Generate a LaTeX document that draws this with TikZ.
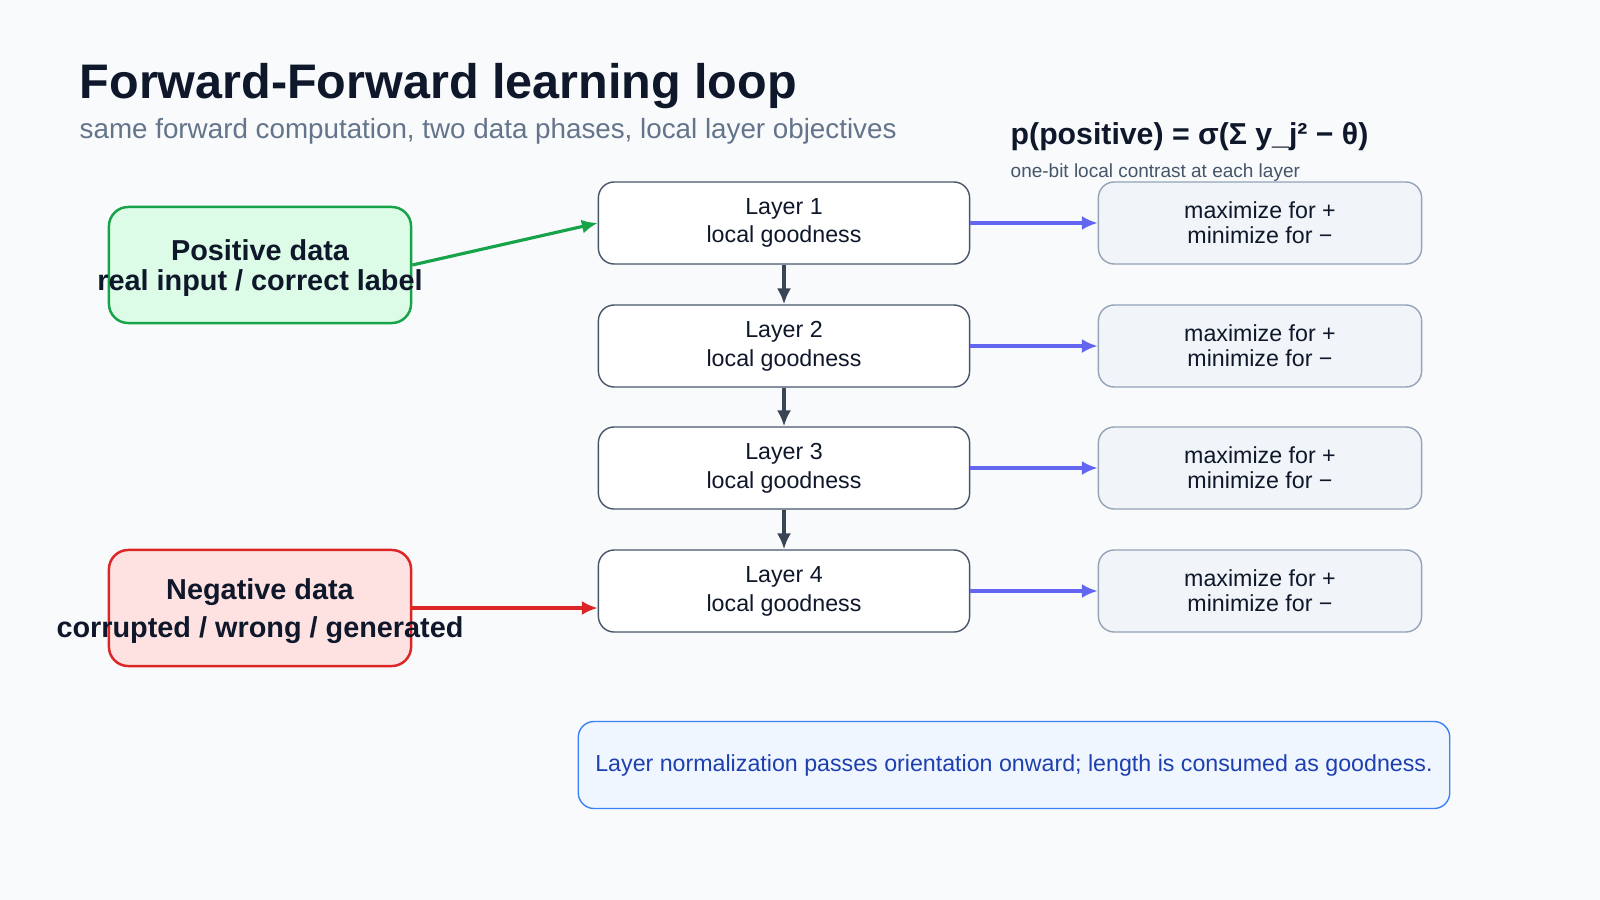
\documentclass[tikz,border=0pt]{standalone}
\usepackage{fontspec}
\setmainfont{Liberation Sans}
\usetikzlibrary{positioning, arrows.meta}
\definecolor{BgGray}{HTML}{F8FAFC}
\definecolor{InkDark}{HTML}{0F172A}
\definecolor{InkMid}{HTML}{64748B}
\definecolor{EdgeGray}{HTML}{475569}
\definecolor{PosFill}{HTML}{DCFCE7}
\definecolor{PosLine}{HTML}{16A34A}
\definecolor{NegFill}{HTML}{FEE2E2}
\definecolor{NegLine}{HTML}{DC2626}
\definecolor{ObjFill}{HTML}{F1F5F9}
\definecolor{ObjLine}{HTML}{94A3B8}
\definecolor{Indigo}{HTML}{6366F1}
\definecolor{NoteFill}{HTML}{EFF6FF}
\definecolor{NoteLine}{HTML}{3B82F6}
\definecolor{NoteInk}{HTML}{1E40AF}

\tikzset{
    layer/.style={draw=EdgeGray, fill=white, rounded corners=4.5pt, minimum width=3.71cm, minimum height=0.82cm, align=center, font=\fontsize{6.6}{8.2}\selectfont, text=InkDark},
    objective/.style={draw=ObjLine, fill=ObjFill, rounded corners=4.5pt, minimum width=3.23cm, minimum height=0.82cm, align=center, font=\fontsize{6.6}{7}\selectfont, text=InkDark},
    data/.style={draw, rounded corners=5.5pt, line width=0.7pt, minimum width=3.02cm, minimum height=1.16cm, text=InkDark},
    flow/.style={-{Latex[length=4.5pt,width=4pt]}, line width=0.9pt},
}

\begin{document}
\begin{tikzpicture}[x=0.01cm, y=-0.01cm]
    \fill[BgGray] (0,0) rectangle (1600,900);
    \useasboundingbox (0,0) rectangle (1600,900);

    \node[anchor=base west, font=\fontsize{13.8}{15}\selectfont\bfseries, text=InkDark, inner sep=0] (title) at (79,98) {Forward-Forward learning loop};
    \node[anchor=base west, font=\fontsize{7.9}{9}\selectfont, text=InkMid, inner sep=0] (subtitle) at (79,138) {same forward computation, two data phases, local layer objectives};
    \node[anchor=base west, font=\fontsize{8.6}{10}\selectfont\bfseries, text=InkDark, inner sep=0] (formula) at (1010,144) {p(positive) = σ(Σ y\_j² − θ)};
    \node[anchor=base west, font=\fontsize{5.4}{6}\selectfont, text=EdgeGray, inner sep=0] (formulanote) at (1010,177) {one-bit local contrast at each layer};

    \node[data, draw=PosLine, fill=PosFill] (pos) at (260,265) {};
    \node[font=\fontsize{8.2}{9}\selectfont\bfseries, text=InkDark, align=center] at (260,268) {Positive data\\[-0.5pt]real input / correct label};
    \node[data, draw=NegLine, fill=NegFill] (neg) at (260,608) {};
    \node[font=\fontsize{8.2}{10}\selectfont\bfseries, text=InkDark, align=center] at (260,611) {Negative data\\[1pt]corrupted / wrong / generated};

    \foreach \i/\y in {1/223, 2/346, 3/468, 4/591} {
        \node[layer] (layer\i) at (784,\y) {Layer \i\\local goodness};
        \node[objective] (obj\i) at (1260,\y) {maximize for +\\minimize for −};
        \draw[flow, Indigo] (layer\i) -- (obj\i);
    }
    \foreach \i/\j in {1/2, 2/3, 3/4}
        \draw[flow, EdgeGray!80!black] (layer\i) -- (layer\j);

    \draw[flow, PosLine] (pos.east) -- (layer1.west);
    \draw[flow, NegLine] (neg.east) -- (neg.east -| layer4.west);

    \node[draw=NoteLine, fill=NoteFill, rounded corners=4.5pt, minimum width=8.71cm, minimum height=0.87cm, font=\fontsize{6.6}{7}\selectfont, text=NoteInk] (note) at (1014,765) {Layer normalization passes orientation onward; length is consumed as goodness.};
\end{tikzpicture}
\end{document}
